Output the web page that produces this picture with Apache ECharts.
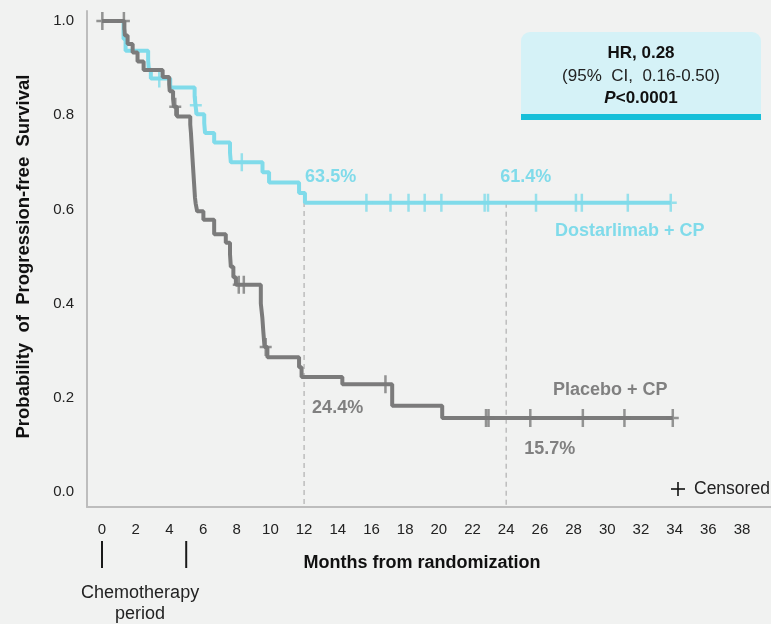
<!DOCTYPE html>
<html>
<head>
<meta charset="utf-8">
<script src="https://cdn.jsdelivr.net/npm/echarts@6/dist/echarts.min.js"></script>
<style>
  html, body { margin: 0; padding: 0; background: #f1f2f1; }
  #chart { width: 771px; height: 624px; }
</style>
</head>
<body>
<div id="chart"></div>
<script>
// Tick values
const xTicks = [0, 2, 4, 6, 8, 10, 12, 14, 16, 18, 20, 22, 24, 26, 28, 30, 32, 34, 36, 38];
const yTicks = [0, 0.2, 0.4, 0.6, 0.8, 1.0];

// Kaplan-Meier steps: [month, survival probability after the event]
const dostarlimabSteps = [
  [0, 1.0], [1.28, 0.962], [1.4, 0.937], [2.74, 0.916], [2.78, 0.897], [2.9, 0.878],
  [4.05, 0.859], [5.5, 0.840], [5.55, 0.821], [5.62, 0.802], [6.07, 0.783], [6.12, 0.762],
  [6.66, 0.742], [7.6, 0.72], [7.65, 0.70], [9.53, 0.679], [9.92, 0.657],
  [11.7, 0.635], [12.05, 0.614], [33.77, 0.614]
];
const placeboSteps = [
  [0, 1.0], [1.33, 0.985], [1.36, 0.969], [1.52, 0.951], [1.82, 0.933], [2.11, 0.914],
  [2.47, 0.896], [3.6, 0.881], [3.99, 0.866], [4.02, 0.851], [4.22, 0.835], [4.27, 0.818],
  [4.45, 0.797], [5.24, 0.78], [5.28, 0.763], [5.31, 0.745], [5.34, 0.728], [5.37, 0.71],
  [5.4, 0.693], [5.43, 0.676], [5.46, 0.659], [5.49, 0.642], [5.52, 0.625], [5.56, 0.613],
  [5.65, 0.596], [6.02, 0.578], [6.66, 0.547], [7.35, 0.529], [7.6, 0.505], [7.65, 0.478],
  [7.8, 0.456], [7.95, 0.44], [9.43, 0.40], [9.52, 0.37], [9.58, 0.34], [9.65, 0.308],
  [9.82, 0.286], [11.7, 0.265], [11.85, 0.244], [14.27, 0.229], [17.23, 0.183],
  [20.2, 0.157], [33.89, 0.157]
];

// Censoring times (months)
const dostarlimabCensored = [3.4, 5.57, 8.3, 15.7, 17.13, 18.2, 19.16, 20.15, 22.72, 22.92,
  25.77, 28.14, 28.49, 31.22, 33.77];
const placeboCensored = [0.02, 1.3, 4.35, 8.12, 8.42, 9.72, 16.83, 22.8, 22.95, 25.43,
  28.55, 31.02, 33.89];

// Landmark estimates
const landmarkMonths = [12, 24];
const dostarlimabLandmarkPct = [63.5, 61.4];
const placeboLandmarkPct = [24.4, 15.7];

// Chemotherapy period (months)
const chemoPeriod = [0, 5];

const seriesNames = ['Dostarlimab + CP', 'Placebo + CP'];

// ---- styling / layout ----
const FONT = '"Liberation Sans", Arial, Helvetica, sans-serif';
const TEAL = '#80dbea';
const GREY = '#7b7b7b';
const LABEL_GREY = '#808080';

// inner plotting area (0..38 months, 0..1 probability)
const G1 = { left: 102, top: 21, width: 640, height: 471 };
// outer frame carrying the axis lines
const G0 = { left: 87, top: 11, width: 684, height: 496 };
const kx = G1.width / 38;
const ky = G1.height / 1;
const x0min = -(G1.left - G0.left) / kx;
const x0max = x0min + G0.width / kx;
const y0max = (G1.top + G1.height - G0.top) / ky;
const y0min = y0max - G0.height / ky;

function valueAt(steps, t) {
  let v = steps[0][1];
  for (const [s, y] of steps) { if (s <= t) v = y; else break; }
  return v;
}

const CROSS = 'path://M4.75,0H7.25V7.75H12V10.25H7.25V18H4.75V10.25H0V7.75H4.75Z';

const chart = echarts.init(document.getElementById('chart'), null, { renderer: 'canvas' });

const landmarkSeries = landmarkMonths.map(m => ({
  type: 'line', xAxisIndex: 0, yAxisIndex: 0, z: 1, silent: true,
  symbol: 'none',
  lineStyle: { color: '#bdbdbd', width: 1.5, type: [5, 4] },
  data: [[m, valueAt(dostarlimabSteps, m)], [m, y0min]]
}));

const option = {
  backgroundColor: '#f1f2f1',
  animation: false,
  textStyle: { fontFamily: FONT },
  grid: [
    { left: G0.left, top: G0.top, width: G0.width, height: G0.height, containLabel: false },
    { left: G1.left, top: G1.top, width: G1.width, height: G1.height, containLabel: false }
  ],
  xAxis: [
    {
      gridIndex: 0, type: 'value', min: x0min, max: x0max,
      axisLine: { show: true, onZero: false, lineStyle: { color: '#bdbdbd', width: 2 } },
      axisTick: { show: false }, axisLabel: { show: false }, splitLine: { show: false }
    },
    {
      gridIndex: 1, type: 'value', min: xTicks[0], max: xTicks[xTicks.length - 1], interval: 2,
      axisLine: { show: false }, axisTick: { show: false }, splitLine: { show: false },
      axisLabel: { margin: 30, color: '#222', fontSize: 15, fontFamily: FONT },
      name: 'Months from randomization', nameLocation: 'middle', nameGap: 62,
      nameTextStyle: { fontWeight: 'bold', fontSize: 18, color: '#111', fontFamily: FONT }
    }
  ],
  yAxis: [
    {
      gridIndex: 0, type: 'value', min: y0min, max: y0max,
      axisLine: { show: true, onZero: false, lineStyle: { color: '#bdbdbd', width: 2 } },
      axisTick: { show: false }, axisLabel: { show: false }, splitLine: { show: false }
    },
    {
      gridIndex: 1, type: 'value', min: yTicks[0], max: yTicks[yTicks.length - 1], interval: 0.2,
      axisLine: { show: false }, axisTick: { show: false }, splitLine: { show: false },
      axisLabel: { margin: 28, color: '#222', fontSize: 15, fontFamily: FONT,
        formatter: v => v.toFixed(1) },
      name: 'Probability  of  Progression-free  Survival', nameLocation: 'middle', nameGap: 69,
      nameRotate: 90,
      nameTextStyle: { fontWeight: 'bold', fontSize: 18.5, color: '#111', fontFamily: FONT }
    }
  ],
  series: [
    ...landmarkSeries,
    {
      name: seriesNames[0], type: 'line', xAxisIndex: 0, yAxisIndex: 0, z: 2,
      step: 'end', symbol: 'none', silent: true,
      lineStyle: { color: TEAL, width: 4 },
      data: dostarlimabSteps
    },
    {
      type: 'scatter', xAxisIndex: 0, yAxisIndex: 0, z: 3, silent: true,
      symbol: CROSS, symbolSize: [12, 18],
      itemStyle: { color: TEAL },
      data: dostarlimabCensored.map(t => [t, valueAt(dostarlimabSteps, t)])
    },
    {
      name: seriesNames[1], type: 'line', xAxisIndex: 0, yAxisIndex: 0, z: 4,
      step: 'end', symbol: 'none', silent: true,
      lineStyle: { color: GREY, width: 4 },
      data: placeboSteps
    },
    {
      type: 'scatter', xAxisIndex: 0, yAxisIndex: 0, z: 5, silent: true,
      symbol: CROSS, symbolSize: [12, 18],
      itemStyle: { color: GREY },
      data: placeboCensored.map(t => [t, valueAt(placeboSteps, t)])
    }
  ]
};

chart.setOption(option);

// ---- annotations placed through the axes ----
const toPx = (x, y) => chart.convertToPixel({ xAxisIndex: 1, yAxisIndex: 1 }, [x, y]);
const graphics = [];

function addText(x, y, text, style) {
  graphics.push({
    type: 'text', x, y, silent: true,
    style: Object.assign({ text, fontFamily: FONT, verticalAlign: 'middle' }, style)
  });
}

// landmark percentages
const lmOffsets = {
  dost: [[1, -16], [-6, -26]],
  plac: [[8, 31], [18, 31]]
};
landmarkMonths.forEach((m, i) => {
  const pd = toPx(m, dostarlimabLandmarkPct[i] / 100);
  addText(pd[0] + lmOffsets.dost[i][0], pd[1] + lmOffsets.dost[i][1],
    dostarlimabLandmarkPct[i].toFixed(1) + '%',
    { fill: TEAL, fontSize: 18, fontWeight: 'bold', align: 'left' });
  const pp = toPx(m, placeboLandmarkPct[i] / 100);
  addText(pp[0] + lmOffsets.plac[i][0], pp[1] + lmOffsets.plac[i][1],
    placeboLandmarkPct[i].toFixed(1) + '%',
    { fill: LABEL_GREY, fontSize: 18, fontWeight: 'bold', align: 'left' });
});

// series names
addText(555, 231, seriesNames[0], { fill: TEAL, fontSize: 18, fontWeight: 'bold', align: 'left' });
addText(553, 390, seriesNames[1], { fill: LABEL_GREY, fontSize: 18, fontWeight: 'bold', align: 'left' });

// censor key
graphics.push({
  type: 'group', x: 678, y: 489, silent: true,
  children: [
    { type: 'line', shape: { x1: -7, y1: 0, x2: 7, y2: 0 }, style: { stroke: '#111', lineWidth: 1.6 } },
    { type: 'line', shape: { x1: 0, y1: -7, x2: 0, y2: 7 }, style: { stroke: '#111', lineWidth: 1.6 } }
  ]
});
addText(694, 489, 'Censored', { fill: '#222', fontSize: 17.5, align: 'left' });

// chemotherapy period markers
chemoPeriod.forEach(m => {
  const p = toPx(m, 0);
  graphics.push({
    type: 'line', silent: true,
    shape: { x1: p[0], y1: 541, x2: p[0], y2: 568 },
    style: { stroke: '#1a1a1a', lineWidth: 2 }
  });
});
const c0 = toPx(chemoPeriod[0], 0), c1 = toPx(chemoPeriod[1], 0);
const cMid = (c0[0] + c1[0]) / 2 - 4;
addText(cMid, 593, 'Chemotherapy', { fill: '#222', fontSize: 18, align: 'center' });
addText(cMid, 614, 'period', { fill: '#222', fontSize: 18, align: 'center' });

// hazard ratio box
graphics.push({
  type: 'group', x: 521, y: 32, silent: true,
  children: [
    { type: 'rect', shape: { x: 0, y: 0, width: 240, height: 86, r: [9, 9, 0, 0] },
      style: { fill: '#d5f2f7' } },
    { type: 'rect', shape: { x: 0, y: 82, width: 240, height: 6 },
      style: { fill: '#16bfd9' } },
    { type: 'text', x: 120, y: 21,
      style: { text: 'HR, 0.28', fontFamily: FONT, fontSize: 17, fontWeight: 'bold',
        fill: '#111', align: 'center', verticalAlign: 'middle' } },
    { type: 'text', x: 120, y: 44,
      style: { text: '(95%  CI,  0.16-0.50)', fontFamily: FONT, fontSize: 17,
        fill: '#222', align: 'center', verticalAlign: 'middle' } },
    { type: 'text', x: 120, y: 66,
      style: {
        text: '{i|P}{b|<0.0001}', align: 'center', verticalAlign: 'middle',
        rich: {
          i: { fontFamily: FONT, fontSize: 17, fontWeight: 'bold', fontStyle: 'italic', fill: '#111' },
          b: { fontFamily: FONT, fontSize: 17, fontWeight: 'bold', fill: '#111' }
        }
      } }
  ]
});

chart.setOption({ graphic: graphics });
</script>
</body>
</html>
